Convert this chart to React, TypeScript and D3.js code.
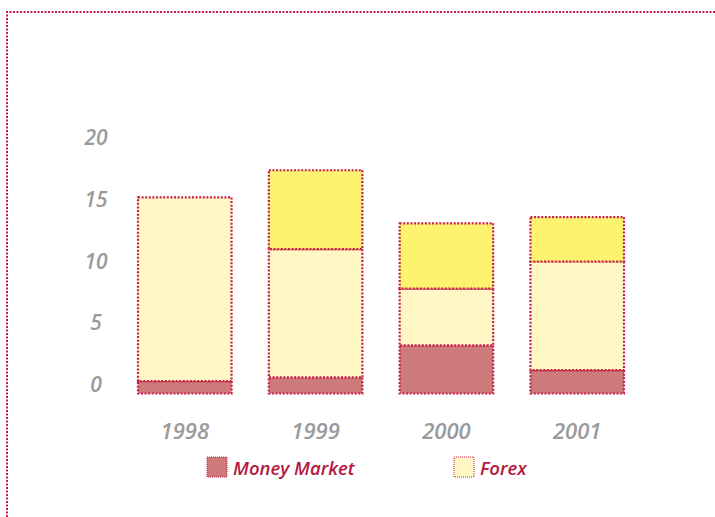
import React from "react";
import * as d3 from "d3";

const years = ["1998", "1999", "2000", "2001"];
const moneyMarket = [1.0, 1.3, 3.9, 1.9];
const forex = [14.9, 10.4, 4.6, 8.8];
const other = [0, 6.4, 5.3, 3.6];
const yTicks = [0, 5, 10, 15, 20];
const legendItems = ["Money Market", "Forex"];

const W = 715;
const H = 517;
const BORDER = "#c41e4a";
const colors = ["#cc7a7a", "#fff8c4", "#fef36e"];

export default function App() {
  const x = d3.scaleBand<string>().domain(years).range([138, 624]).paddingInner(0.285).paddingOuter(0);
  const y = d3.scaleLinear().domain([0, 20]).range([393.5, 146.8]);

  const rows = years.map((yr, i) => ({ yr, mm: moneyMarket[i], fx: forex[i], ot: other[i] }));
  const stack = d3.stack<any>().keys(["mm", "fx", "ot"])(rows);

  const font = "'Open Sans', 'DejaVu Sans', sans-serif";

  return (
    <svg width={W} height={H} style={{ position: "absolute", left: 0, top: 0 }}>
      <rect x={0} y={0} width={W} height={H} fill="#fff" />
      <path
        d={`M7,${H} L7,12 L${W},12`}
        fill="none"
        stroke={BORDER}
        strokeWidth={2}
        strokeDasharray="2 1.5"
      />
      {yTicks.map((t) => (
        <text
          key={t}
          x={96}
          y={y(t) - 1.5}
          textAnchor="middle"
          fontFamily={font}
          fontStyle="italic"
          fontWeight={600}
          fontSize={21}
          fill="#9a9a9c"
        >
          {t}
        </text>
      ))}
      {stack.map((layer, li) =>
        layer.map((d, i) => {
          const h = y(d[0]) - y(d[1]);
          if (h <= 0.5) return null;
          return (
            <rect
              key={`${li}-${i}`}
              x={x(years[i])!}
              y={y(d[1])}
              width={x.bandwidth()}
              height={h}
              fill={colors[li]}
              stroke={BORDER}
              strokeWidth={2.2}
              strokeDasharray="2 1.6"
            />
          );
        })
      )}
      {years.map((yr) => (
        <text
          key={yr}
          x={x(yr)! + x.bandwidth() / 2}
          y={439}
          textAnchor="middle"
          fontFamily={font}
          fontStyle="italic"
          fontWeight={600}
          fontSize={22}
          fill="#9a9a9c"
        >
          {yr}
        </text>
      ))}
      {legendItems.map((name, i) => {
        const lx = [207, 454][i];
        return (
          <g key={name}>
            <rect
              x={lx}
              y={457}
              width={20}
              height={20}
              fill={colors[i]}
              stroke={BORDER}
              strokeWidth={1}
              strokeDasharray="1 1"
            />
            <text
              x={lx + 26}
              y={475}
              fontFamily={font}
              fontStyle="italic"
              fontWeight={600}
              fontSize={18.5}
              fill="#b5173f"
            >
              {name}
            </text>
          </g>
        );
      })}
    </svg>
  );
}
